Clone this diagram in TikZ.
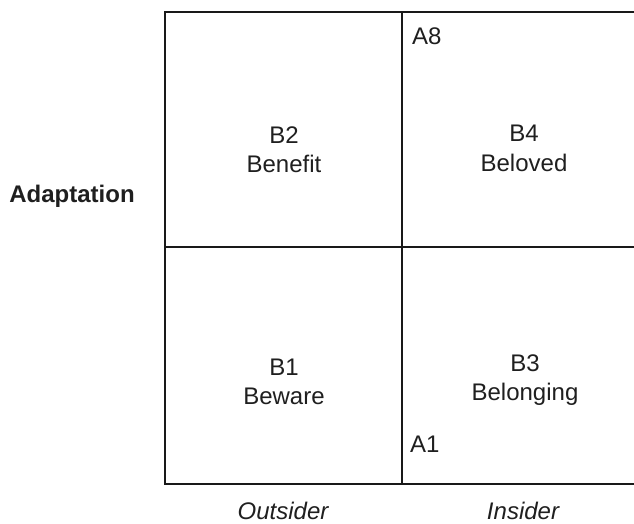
\documentclass[tikz,border=0pt]{standalone}
\usepackage{fontspec}
\setmainfont{Liberation Sans}
\begin{document}
\begin{tikzpicture}[x=1pt,y=-1pt,
  grid/.style={line width=2pt,black!90},
  % two-line labels: the base anchor sits on the baseline of the last line
  lbl/.style={font=\fontsize{24}{29}\selectfont,align=center,inner sep=0pt,anchor=base,text=black!88},
  corner/.style={font=\fontsize{24}{29}\selectfont,inner sep=0pt,anchor=base west,text=black!88},
  axis/.style={font=\fontsize{24}{29}\selectfont\itshape,inner sep=0pt,anchor=base,text=black!88}]
\useasboundingbox (0,0) rectangle (634,524);
\begin{scope}
\clip (0,0) rectangle (634,524);
% quadrant frame, its right side runs past the page edge
\draw[grid] (165,12) rectangle (650,484);
\draw[grid] (402,12) -- (402,484);
\draw[grid] (165,247) -- (650,247);
\end{scope}
\node[lbl,font=\fontsize{24}{29}\selectfont\bfseries] (adapt) at (72,202) {Adaptation};
\node[lbl] (b2) at (284,172) {B2\\Benefit};
\node[lbl] (b4) at (524,171) {B4\\Beloved};
\node[lbl] (b1) at (284,404) {B1\\Beware};
\node[lbl] (b3) at (525,400) {B3\\Belonging};
\node[corner] (a8) at (412,45) {A8};
\node[corner] (a1) at (410,452) {A1};
\node[axis] (out) at (283,519) {Outsider};
\node[axis] (ins) at (523,519) {Insider};
\end{tikzpicture}
\end{document}
